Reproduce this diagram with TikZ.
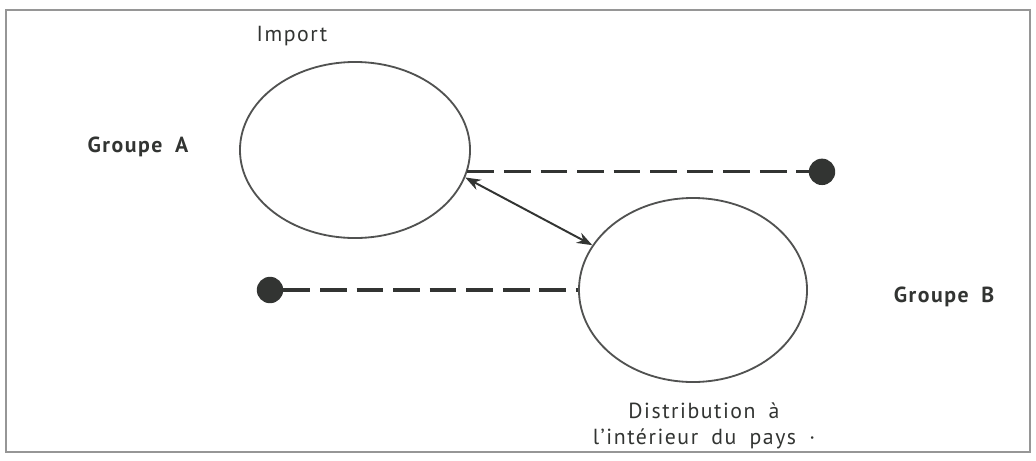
\documentclass[tikz,border=0pt]{standalone}
\usepackage{fontspec}
\setmainfont{PT Sans}[LetterSpace=7, WordSpace=1.8]
\usepackage{tikz}
\usetikzlibrary{shapes.geometric, arrows.meta, positioning}
\definecolor{inkgray}{RGB}{50,52,50}
\definecolor{framegray}{RGB}{150,150,150}

\begin{document}
\begin{tikzpicture}[x=0.025cm, y=-0.025cm,
    groupe/.style={ellipse, draw=inkgray!85, line width=1.3pt, inner sep=0pt},
    blob/.style={circle, fill=inkgray, inner sep=0pt, minimum size=0.66cm},
    lien/.style={inkgray, line width=2.2pt, dash pattern=on 19pt off 7pt},
    label/.style={text=inkgray, font=\fontsize{15.5}{19}\selectfont}]
    \useasboundingbox (0,0) rectangle (1036,460);
    \draw[framegray, line width=0.8pt] (6,452) -- (6,10) -- (1030,10) -- (1030,452) -- cycle;
    \draw[framegray, line width=1.6pt] (6,10) -- (1030,10);

    % les deux groupes
    \node[groupe, minimum width=5.75cm, minimum height=4.4cm] (A) at (355,150) {};
    \node[groupe, minimum width=5.7cm, minimum height=4.6cm] (B) at (693,290) {};

    \node[label] (imp) at (292,36) {Import};
    \node[label, font=\fontsize{15.5}{19}\selectfont\bfseries] (gA) at (138,147) {Groupe A};
    \node[label, font=\fontsize{15.5}{19}\selectfont\bfseries] (gB) at (944,297) {Groupe B};
    \node[label, align=center] (dist) at (704,426) {Distribution à\\l'intérieur du pays ·};

    % liaisons
    \node[blob] (dR) at (822,0 |- A.-11) {};
    \node[blob] (dL) at (270,0 |- B.west) {};
    \draw[lien] (A.-11) -- (dR);
    \draw[lien] (dL) -- (B.west);
    \draw[{Stealth[length=11pt,width=8pt]}-{Stealth[length=11pt,width=8pt]}, inkgray, line width=1.4pt] (A.-14) -- (B.156);
\end{tikzpicture}
\end{document}
